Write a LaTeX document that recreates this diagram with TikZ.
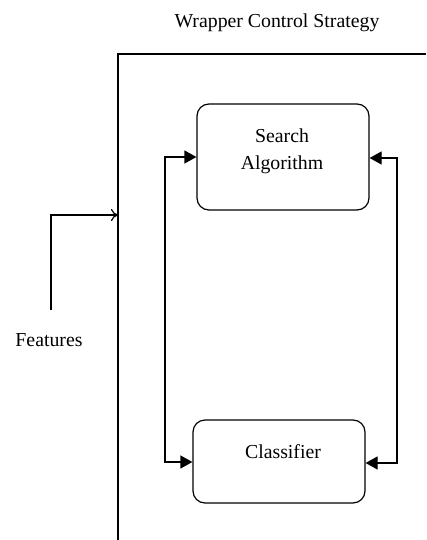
\documentclass[tikz,border=0pt]{standalone}
\usepackage{fontspec}
\setmainfont{Liberation Serif}
\usetikzlibrary{arrows.meta}
\begin{document}
\begin{tikzpicture}[x=1pt,y=-1pt,
  lbl/.style={font=\fontsize{19.8}{27}\selectfont, inner sep=0pt, align=center},
  blk/.style={draw, line width=1.2pt, rounded corners=12pt, inner sep=0pt},
  ln/.style={line width=1.2pt},
  fill tip/.style={-{Triangle[length=12pt,width=13pt]}},
  open tip/.style={-{To[length=7pt,width=12pt]}}]
\useasboundingbox (0,0) rectangle (426,540);
\node[lbl] (title) at (277,23) {Wrapper Control Strategy};
% outer frame (open at right and bottom)
\coordinate (ftr) at (426,54);
\coordinate (ftl) at (118,54);
\coordinate (fbl) at (118,540);
\draw[ln] (ftr) -- (ftl) -- (fbl);
% blocks
\node[blk, minimum width=172pt, minimum height=106pt] (search) at (283,157) {};
\node[lbl] (searchtxt) at (282,151) {Search\\Algorithm};
\node[blk, minimum width=172pt, minimum height=83pt] (clf) at (279,461.5) {};
\node[lbl] (clftxt) at (283,452) {Classifier};
% left loop
\coordinate (lt) at (165,157);
\coordinate (lb) at (165,462);
\draw[ln, fill tip] (lb) -- (lt) -- (search.west |- lt);
\draw[ln, fill tip] (lt) -- (lb) -- (clf.west |- lb);
% right loop
\coordinate (rt) at (397,158);
\coordinate (rb) at (397,463);
\draw[ln, fill tip] (rb) -- (rt) -- (search.east |- rt);
\draw[ln, fill tip] (rt) -- (rb) -- (clf.east |- rb);
% features
\node[lbl] (feat) at (49,340) {Features};
\coordinate (fs) at (51,310);
\coordinate (fc) at (51,215);
\draw[ln, open tip] (fs) -- (fc) -- (ftl |- fc);
\end{tikzpicture}
\end{document}
